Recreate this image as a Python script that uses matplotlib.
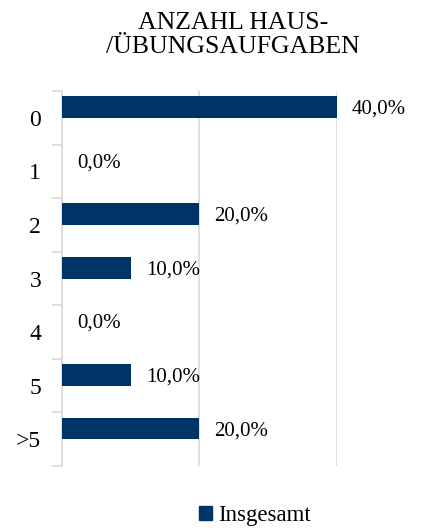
import matplotlib
matplotlib.use('Agg')
from matplotlib import pyplot as plt
from matplotlib.patches import Patch

plt.rcParams['font.family'] = ['Liberation Serif', 'DejaVu Serif']

categories = ['0', '1', '2', '3', '4', '5', '>5']
values = [40.0, 0.0, 20.0, 10.0, 0.0, 10.0, 20.0]
series_name = 'Insgesamt'
title = 'ANZAHL HAUS-\n/ÜBUNGSAUFGABEN'

bar_color = '#003366'
grid_color = '#d9d9d9'

fig = plt.figure(figsize=(4.45, 5.32), dpi=100)
ax = fig.add_axes([62 / 445, 1 - 466 / 532, (337 - 62) / 445, (466 - 91) / 532])

pos = list(range(len(categories)))
# bars sit in the upper part of each band (Excel style)
bar_pos = [p - 0.2 for p in pos]
ax.barh(bar_pos, values, height=0.41, color=bar_color, zorder=3)

for y, v in zip(bar_pos, values):
    ax.text(v + 2.2, y + 0.04, ('%.1f%%' % v).replace('.', ','), va='center', ha='left',
            fontsize=15, color='black', clip_on=False)

ax.set_xlim(0, 40)
ax.set_ylim(len(categories) - 0.5, -0.5)
ax.set_yticks(pos)
ax.set_yticklabels(categories, fontsize=17)
ax.set_yticks([p - 0.5 for p in range(len(categories) + 1)], minor=True)
ax.tick_params(axis='y', which='major', length=0, pad=15)
ax.tick_params(axis='y', which='minor', length=7, color=grid_color, width=1.2)
ax.set_xticks([0, 20, 40])
ax.tick_params(axis='x', length=0, labelbottom=False)
ax.grid(axis='x', color=grid_color, linewidth=1.2, zorder=0)

for s in ['top', 'right', 'bottom']:
    ax.spines[s].set_visible(False)
ax.spines['left'].set_color(grid_color)
ax.spines['left'].set_linewidth(1.2)

fig.text(233 / 445, 1 - 35 / 532, title, ha='center', va='center', fontsize=18.5,
         linespacing=1.15)

fig.legend(handles=[Patch(color=bar_color, label=series_name)], loc='center',
           bbox_to_anchor=(255 / 445, 1 - 516 / 532), frameon=False, fontsize=16.5,
           handlelength=0.55, handleheight=0.55, handletextpad=0.25)

fig.savefig('out.png', dpi=100)
